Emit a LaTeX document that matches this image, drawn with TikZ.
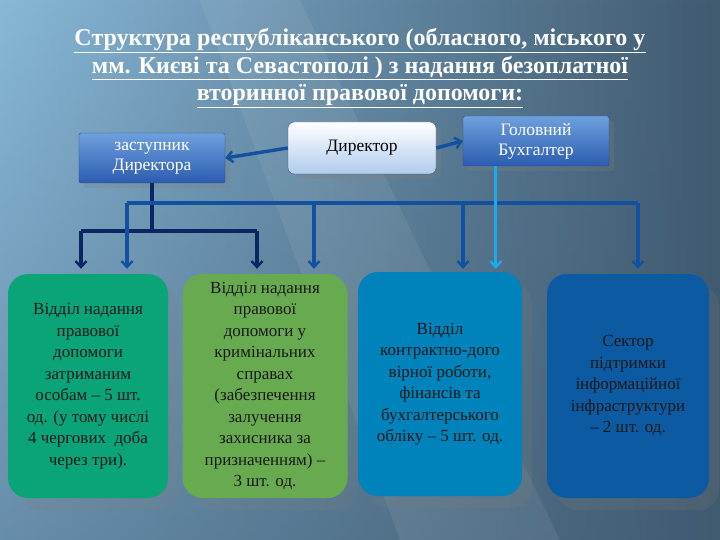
\documentclass[tikz,border=0pt]{standalone}
\usepackage{fontspec}
\setmainfont{Liberation Serif}
\definecolor{bgleft}{RGB}{136,184,216}
\definecolor{bgmid}{RGB}{86,122,148}
\definecolor{bgright}{RGB}{64,90,112}
\definecolor{navy}{RGB}{12,38,100}
\definecolor{linkblue}{RGB}{18,80,160}
\definecolor{cyanline}{RGB}{30,170,230}
\definecolor{teal}{RGB}{10,164,120}
\definecolor{leaf}{RGB}{104,170,80}
\definecolor{seablue}{RGB}{0,130,186}
\definecolor{deepblue}{RGB}{12,90,162}
\definecolor{headtop}{RGB}{110,160,222}
\definecolor{headbot}{RGB}{44,92,176}
\usetikzlibrary{arrows.meta,shadows,fadings}
\tikzset{
  head/.style={draw=headbot!80!black, top color=headtop, bottom color=headbot, rounded corners=2pt,
               text=white, font=\fontsize{17.5}{20}\selectfont, align=center,
               minimum width=146pt, minimum height=50pt,
               drop shadow={shadow xshift=5pt, shadow yshift=-5pt, opacity=0.25}},
  chief/.style={draw=navy!80, top color=white, bottom color=headtop!55, rounded corners=6pt,
               font=\fontsize{17.5}{20}\selectfont, minimum width=148pt, minimum height=52pt,
               drop shadow={shadow xshift=5pt, shadow yshift=-5pt, opacity=0.25}},
  dept/.style={rounded corners=20pt, align=center, font=\fontsize{17}{21.5}\selectfont,
               minimum height=224pt, text=black!90,
               drop shadow={shadow xshift=10pt, shadow yshift=-12pt, opacity=0.18}},
  tip/.style={-{Straight Barb[length=6pt,width=11pt,line width=2.4pt]}},
  navyline/.style={navy, line width=3.2pt},
  blueline/.style={linkblue, line width=3.2pt},
}
\begin{document}
\begin{tikzpicture}[x=1pt,y=-1pt]
  \useasboundingbox (0,0) rectangle (720,540);
  \shade[left color=bgleft, middle color=bgmid, right color=bgright] (0,0) rectangle (720,540);
  \fill[bgright, path fading=north, opacity=0.45] (0,0) rectangle (720,540);
  \fill[white, opacity=0.07] (200,0) -- (300,0) -- (560,540) -- (400,540) -- cycle;

  \node[text=white, font=\bfseries\fontsize{24}{27.5}\selectfont, align=center] (title) at (360,68)
    {\underline{Структура республіканського (обласного, міського у}\\
     \underline{мм. Києві та Севастополі ) з надання безоплатної}\\
     \underline{вторинної правової допомоги:}};

  \node[chief] (dir) at (362,148) {Директор};
  \node[head] (zast) at (152,158) {заступник\\Директора};
  \node[head] (buh) at (536,141) {Головний\\Бухгалтер};

  \node[dept, fill=teal, minimum width=160pt] (d1) at (88,386)
    {Відділ надання\\правової\\допомоги\\затриманим\\особам – 5 шт.\\од. (у тому числі\\4 чергових~ доба\\через три).};
  \node[dept, fill=leaf, minimum width=165pt] (d2) at (265,386)
    {Відділ надання\\правової\\допомоги у\\кримінальних\\справах\\(забезпечення\\залучення\\захисника за\\призначенням) –\\3 шт. од.};
  \node[dept, fill=seablue, minimum width=164pt] (d3) at (440,384)
    {Відділ\\контрактно-дого\\вірної роботи,\\фінансів та\\бухгалтерського\\обліку – 5 шт. од.};
  \node[dept, fill=deepblue, minimum width=162pt] (d4) at (628,386)
    {Сектор\\підтримки\\інформаційної\\інфраструктури\\– 2 шт. од.};

  % top arrows
  \draw[tip, linkblue, line width=3.4pt] (dir.west) -- (zast.east);
  \draw[tip, linkblue, line width=3.4pt] (dir.east) -- (buh.west);

  % deputy branch
  \coordinate (nL) at (81,231);
  \coordinate (nR) at (257,231);
  \coordinate (nM) at (zast.south |- nL);
  \draw[navyline] (zast.south) -- (nM);
  \draw[navyline] (nL) -- (nR);
  \draw[navyline, tip, shorten >=5pt] (nL) -- (nL |- d1.north);
  \draw[navyline, tip, shorten >=5pt] (nR) -- (nR |- d2.north);

  % common bar
  \coordinate (b1) at (127,203);
  \coordinate (b2) at (314,203);
  \coordinate (b3) at (463,203);
  \coordinate (b4) at (638,203);
  \draw[blueline] (b1) -- (b4);
  \draw[blueline, tip, shorten >=5pt] (b1) -- (b1 |- d1.north);
  \draw[blueline, tip, shorten >=5pt] (b2) -- (b2 |- d2.north);
  \draw[blueline, tip, shorten >=3pt] (b3) -- (b3 |- d3.north);
  \draw[blueline, tip, shorten >=5pt] (b4) -- (b4 |- d4.north);

  % accountant
  \coordinate (c0) at ([xshift=33pt]buh.south west);
  \draw[cyanline, line width=3.2pt, tip, shorten >=3pt] (c0) -- (c0 |- d3.north);
\end{tikzpicture}
\end{document}
